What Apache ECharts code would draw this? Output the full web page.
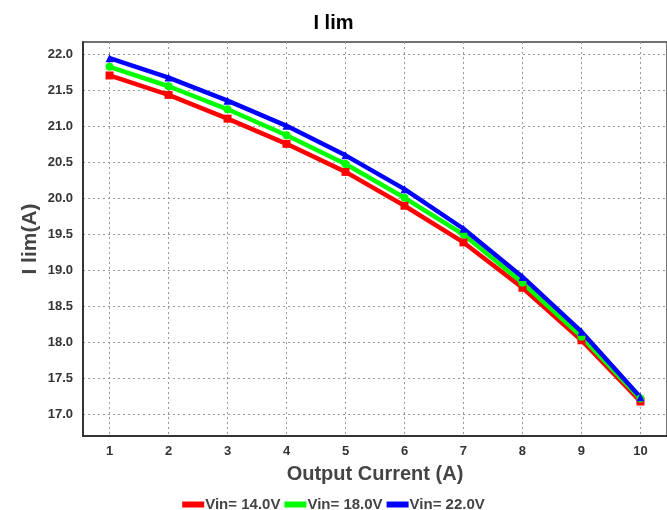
<!DOCTYPE html>
<html>
<head>
<meta charset="utf-8">
<script src="https://cdn.jsdelivr.net/npm/echarts@6/dist/echarts.min.js"></script>
<style>
  html, body { margin: 0; padding: 0; background: #fff; }
  #chart { width: 667px; height: 510px; }
</style>
</head>
<body>
<div id="chart"></div>
<script>
// data
const currents = [1, 2, 3, 4, 5, 6, 7, 8, 9, 10]
const vin14 = [21.71, 21.44, 21.11, 20.76, 20.37, 19.90, 19.39, 18.76, 18.03, 17.18]
const vin18 = [21.83, 21.56, 21.24, 20.88, 20.48, 20.01, 19.50, 18.83, 18.08, 17.22]
const vin22 = [21.95, 21.68, 21.36, 21.01, 20.60, 20.13, 19.58, 18.91, 18.15, 17.24]
const yTicks = [17.0, 17.5, 18.0, 18.5, 19.0, 19.5, 20.0, 20.5, 21.0, 21.5, 22.0]

const font = 'Liberation Sans, Arial, sans-serif'
const chart = echarts.init(document.getElementById('chart'))

const pairs = (ys) => currents.map((x, i) => [x, ys[i]])

const makeSeries = (name, ys, color, symbol) => ({
  name: name,
  type: 'line',
  data: pairs(ys),
  symbol: symbol,
  symbolSize: 8,
  showSymbol: true,
  lineStyle: { color: color, width: 4.5 },
  itemStyle: { color: color },
  emphasis: { disabled: true },
  animation: false
})

const option = {
  animation: false,
  title: {
    text: 'I lim',
    left: 'center',
    top: 8,
    textStyle: { fontFamily: font, fontWeight: 'bold', fontSize: 20, color: '#000' }
  },
  grid: {
    left: 83, top: 42, right: 0, bottom: 74,
    show: true, borderColor: '#444', borderWidth: 1.5,
    containLabel: false
  },
  legend: {
    top: 492,
    left: 'center',
    itemGap: 4,
    itemWidth: 22,
    itemHeight: 6,
    icon: 'rect',
    textStyle: { fontFamily: font, fontWeight: 'bold', fontSize: 15, color: '#444', padding: [0, 0, 0, -4] },
    data: ['Vin= 14.0V', 'Vin= 18.0V', 'Vin= 22.0V']
  },
  xAxis: {
    type: 'value',
    min: 0.55,
    max: 10.45,
    name: 'Output Current (A)',
    nameLocation: 'middle',
    nameGap: 28,
    nameMoveOverlap: false,
    nameTextStyle: { fontFamily: font, fontWeight: 'bold', fontSize: 20, color: '#444' },
    axisLine: { show: true, lineStyle: { color: '#333', width: 2 } },
    axisTick: { show: false, customValues: currents },
    axisLabel: {
      customValues: currents,
      margin: 9,
      fontFamily: font, fontWeight: 'bold', fontSize: 13, color: '#333'
    },
    splitLine: { show: true, lineStyle: { color: '#999', type: [2, 3], width: 1 } }
  },
  yAxis: {
    type: 'value',
    min: 16.70,
    max: 22.175,
    name: 'I lim(A)',
    nameLocation: 'middle',
    nameGap: 42,
    nameMoveOverlap: false,
    nameTextStyle: { fontFamily: font, fontWeight: 'bold', fontSize: 21, color: '#444' },
    axisLine: { show: true, lineStyle: { color: '#333', width: 2 } },
    axisTick: { show: false, customValues: yTicks },
    axisLabel: {
      customValues: yTicks,
      margin: 10,
      formatter: (v) => v.toFixed(1),
      fontFamily: font, fontWeight: 'bold', fontSize: 13, color: '#333'
    },
    splitLine: { show: true, lineStyle: { color: '#999', type: [2, 3], width: 1 } }
  },
  series: [
    makeSeries('Vin= 14.0V', vin14, '#ff0000', 'rect'),
    makeSeries('Vin= 18.0V', vin18, '#00ff00', 'circle'),
    makeSeries('Vin= 22.0V', vin22, '#0000ff', 'triangle')
  ]
}

chart.setOption(option)
window.addEventListener('resize', () => {
  chart.resize()
})
</script>
</body>
</html>
